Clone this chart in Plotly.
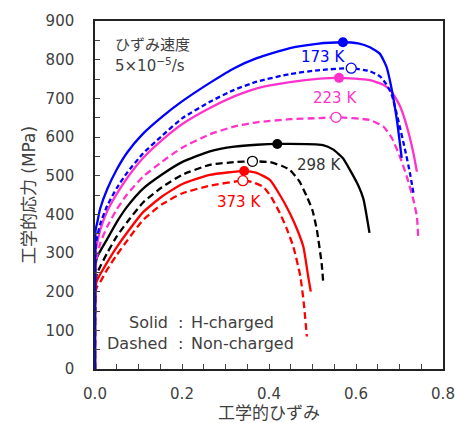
import plotly.graph_objects as go

# ---- data (engineering strain, engineering stress MPa) ----
b_s_x = [0, 0.0015, 0.005, 0.012, 0.028, 0.05, 0.074, 0.11, 0.154, 0.2, 0.264, 0.32, 0.372, 0.448, 0.51, 0.57, 0.605, 0.632, 0.655, 0.67, 0.68, 0.694, 0.705]
b_s_y = [0, 360, 378, 415, 465, 516, 560, 608, 652, 692, 740, 778, 804, 830, 841, 845, 842, 832, 815, 782, 735, 644, 546]

b_d_x = [0, 0.0015, 0.005, 0.012, 0.028, 0.05, 0.074, 0.11, 0.154, 0.2, 0.264, 0.32, 0.372, 0.448, 0.517, 0.589, 0.632, 0.655, 0.67, 0.682, 0.697, 0.713, 0.724, 0.732]
b_d_y = [0, 320, 342, 375, 422, 468, 508, 557, 603, 648, 691, 722, 743, 763, 773, 778, 770, 757, 736, 710, 644, 566, 507, 455]

p_s_x = [0, 0.0015, 0.005, 0.012, 0.028, 0.05, 0.074, 0.11, 0.154, 0.2, 0.264, 0.32, 0.372, 0.448, 0.517, 0.561, 0.632, 0.663, 0.682, 0.701, 0.717, 0.732, 0.74]
p_s_y = [0, 305, 326, 360, 408, 453, 494, 545, 592, 633, 675, 705, 726, 742, 751, 753, 747, 735, 717, 680, 627, 558, 510]

p_d_x = [0, 0.0015, 0.005, 0.012, 0.028, 0.05, 0.074, 0.11, 0.154, 0.2, 0.264, 0.32, 0.372, 0.448, 0.517, 0.554, 0.632, 0.663, 0.682, 0.701, 0.717, 0.732, 0.74, 0.743]
p_d_y = [0, 275, 292, 325, 368, 413, 452, 497, 536, 572, 607, 627, 638, 646, 649, 651, 644, 627, 598, 549, 497, 437, 394, 340]

k_s_x = [0, 0.0015, 0.005, 0.012, 0.028, 0.05, 0.074, 0.11, 0.154, 0.2, 0.264, 0.32, 0.372, 0.419, 0.524, 0.547, 0.57, 0.586, 0.605, 0.617, 0.631]
k_s_y = [0, 270, 290, 305, 336, 380, 420, 466, 503, 535, 563, 575, 580, 582, 579, 568, 545, 515, 475, 440, 352]

k_d_x = [0, 0.0015, 0.005, 0.012, 0.028, 0.05, 0.074, 0.11, 0.154, 0.2, 0.264, 0.32, 0.362, 0.402, 0.43, 0.448, 0.47, 0.487, 0.5, 0.51, 0.521, 0.525]
k_d_y = [0, 230, 248, 265, 300, 343, 380, 430, 470, 502, 528, 535, 537, 535, 525, 515, 485, 446, 410, 360, 273, 218]

r_s_x = [0, 0.0015, 0.005, 0.012, 0.028, 0.05, 0.074, 0.11, 0.154, 0.2, 0.264, 0.343, 0.37, 0.402, 0.425, 0.448, 0.465, 0.479, 0.49, 0.496]
r_s_y = [0, 215, 230, 245, 276, 315, 353, 405, 446, 478, 502, 512, 508, 489, 450, 403, 360, 316, 240, 200]

r_d_x = [0, 0.0015, 0.005, 0.012, 0.028, 0.05, 0.074, 0.11, 0.154, 0.2, 0.264, 0.34, 0.36, 0.387, 0.405, 0.425, 0.44, 0.456, 0.472, 0.48, 0.487]
r_d_y = [0, 200, 213, 225, 257, 295, 332, 385, 426, 454, 474, 487, 484, 471, 445, 403, 365, 316, 240, 170, 84]

# peak markers (filled: H-charged, open: non-charged)
peak_h_x = [0.57, 0.561, 0.419, 0.343]
peak_h_y = [845, 753, 582, 512]
peak_n_x = [0.589, 0.554, 0.362, 0.34]
peak_n_y = [778, 651, 537, 487]

colors = ["#0000FF", "#FF33CC", "#000000", "#FF0000"]
temps = ["173 K", "223 K", "298 K", "373 K"]
temp_label_x = [0.524, 0.552, 0.515, 0.331]
temp_label_y = [807, 701, 528, 432]

FONT = "DejaVu Sans, Noto Sans CJK JP, sans-serif"
TXT = "#404040"

fig = go.Figure()

series = [
    (r_d_x, r_d_y, colors[3], "dash"), (r_s_x, r_s_y, colors[3], "solid"),
    (k_d_x, k_d_y, colors[2], "dash"), (k_s_x, k_s_y, colors[2], "solid"),
    (p_d_x, p_d_y, colors[1], "dash"), (p_s_x, p_s_y, colors[1], "solid"),
    (b_d_x, b_d_y, colors[0], "bdash"), (b_s_x, b_s_y, colors[0], "solid"),
]
for x, y, c, st in series:
    dash = {"solid": "solid", "dash": "7px,4px", "bdash": "5px,3px"}[st]
    fig.add_trace(go.Scatter(x=x, y=y, mode="lines",
                             line=dict(color=c, width=2.3, dash=dash, shape="spline", smoothing=0.5),
                             showlegend=False, hoverinfo="skip"))

for i in range(4):
    fig.add_trace(go.Scatter(x=[peak_n_x[i]], y=[peak_n_y[i]], mode="markers",
                             marker=dict(size=10, color="white", line=dict(color=colors[i], width=1.3)),
                             showlegend=False))
    fig.add_trace(go.Scatter(x=[peak_h_x[i]], y=[peak_h_y[i]], mode="markers",
                             marker=dict(size=10, color=colors[i], line=dict(width=0)),
                             showlegend=False))
    fig.add_annotation(x=temp_label_x[i], y=temp_label_y[i], text=temps[i], showarrow=False,
                       font=dict(family=FONT, size=15, color=colors[i] if i != 2 else "#333333"),
                       xanchor="center", yanchor="middle")

fig.add_annotation(x=0.041, y=838, text="ひずみ速度", showarrow=False, xanchor="left", yanchor="middle",
                   font=dict(family=FONT, size=15, color=TXT))
fig.add_annotation(x=0.041, y=786, text="5×10<sup>−5</sup>/s", showarrow=False, xanchor="left", yanchor="middle",
                   font=dict(family=FONT, size=15, color=TXT))

legend_left = ["Solid", "Dashed"]
legend_right = ["H-charged", "Non-charged"]
legend_y = [119, 65]
for i in range(2):
    fig.add_annotation(x=0.172, y=legend_y[i], text=legend_left[i], showarrow=False, xanchor="right",
                       yanchor="middle", font=dict(family=FONT, size=16, color=TXT))
    fig.add_annotation(x=0.197, y=legend_y[i], text=":", showarrow=False, xanchor="center",
                       yanchor="middle", font=dict(family=FONT, size=16, color=TXT))
    fig.add_annotation(x=0.215, y=legend_y[i], text=legend_right[i], showarrow=False, xanchor="left",
                       yanchor="middle", font=dict(family=FONT, size=16, color=TXT))

axis_common = dict(showgrid=False, zeroline=False, showline=True, linecolor="#222222", linewidth=1.5,
                   mirror=True, ticks="inside", ticklen=5, tickwidth=1, tickcolor="#444444",
                   automargin=False,
                   tickfont=dict(family=FONT, size=15, color=TXT))

fig.update_xaxes(range=[0, 0.8], dtick=0.2, tickformat=".1f",
                 minor=dict(dtick=0.05, ticks="inside", ticklen=5, tickcolor="#444444"),
                 ticklabelstandoff=10,
                 title=dict(text="工学的ひずみ", font=dict(family=FONT, size=17, color=TXT), standoff=4),
                 **axis_common)
fig.update_yaxes(range=[0, 900], dtick=100,
                 minor=dict(dtick=50, ticks="inside", ticklen=5, tickcolor="#444444"),
                 ticklabelstandoff=16,
                 title=dict(text="工学的応力 (MPa)", font=dict(family=FONT, size=17, color=TXT), standoff=6),
                 **axis_common)

fig.update_layout(width=455, height=423, margin=dict(l=95, r=12, t=21, b=54),
                  paper_bgcolor="white", plot_bgcolor="white")

fig.write_html("out.html")
